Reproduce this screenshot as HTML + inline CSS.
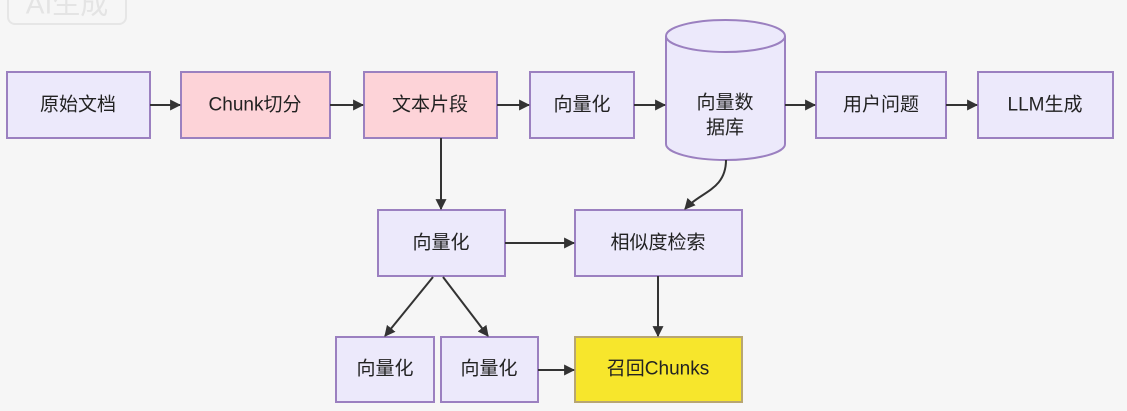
<!DOCTYPE html>
<html><head><meta charset="utf-8"><style>
html,body{margin:0;padding:0;background:#f6f6f6;}
svg{display:block}
text{font-family:"Liberation Sans","Noto Sans CJK SC",sans-serif;font-size:19px;fill:#222;text-anchor:middle;dominant-baseline:central}
.b{fill:#ece9fb;stroke:#9b80c0;stroke-width:2}
.p{fill:#fdd3d8;stroke:#9b80c0;stroke-width:2}
.y{fill:#f7e62c;stroke:#b8a672;stroke-width:2}
.l{stroke:#333;stroke-width:2;fill:none;marker-end:url(#a)}
</style></head><body>
<svg width="1127" height="411" viewBox="0 0 1127 411">
<defs><marker id="a" viewBox="0 0 10 10" refX="9" refY="5" markerWidth="11" markerHeight="11" orient="auto" markerUnits="userSpaceOnUse"><path d="M0,0L10,5L0,10z" fill="#333"/></marker></defs>
<rect x="8" y="-12" width="118" height="36" rx="7" fill="none" stroke="#e6e6e6" stroke-width="2"/>
<text x="67" y="4" style="fill:#e4e4e4;font-size:28px">AI生成</text>
<rect class="b" x="7" y="72" width="143" height="66"/><text x="78" y="105">原始文档</text>
<rect class="p" x="181" y="72" width="149" height="66"/><text x="255" y="105">Chunk切分</text>
<rect class="p" x="364" y="72" width="133" height="66"/><text x="430" y="105">文本片段</text>
<rect class="b" x="530" y="72" width="104" height="66"/><text x="582" y="105">向量化</text>
<path class="b" d="M666,36 A59.5,16 0 0 1 785,36 L785,144 A59.5,16 0 0 1 666,144 Z"/>
<path d="M666,36 A59.5,16 0 0 0 785,36" fill="none" stroke="#9b80c0" stroke-width="2"/>
<text x="725" y="103">向量数</text><text x="725" y="128">据库</text>
<rect class="b" x="816" y="72" width="130" height="66"/><text x="881" y="105">用户问题</text>
<rect class="b" x="978" y="72" width="135" height="66"/><text x="1045" y="105">LLM生成</text>
<rect class="b" x="378" y="210" width="127" height="66"/><text x="441" y="243">向量化</text>
<rect class="b" x="575" y="210" width="167" height="66"/><text x="658" y="243">相似度检索</text>
<rect class="b" x="336" y="337" width="98" height="65"/><text x="385" y="369">向量化</text>
<rect class="b" x="441" y="337" width="97" height="65"/><text x="489" y="369">向量化</text>
<rect class="y" x="575" y="337" width="167" height="65"/><text x="658" y="369">召回Chunks</text>
<line class="l" x1="150" y1="105" x2="180" y2="105"/>
<line class="l" x1="330" y1="105" x2="363" y2="105"/>
<line class="l" x1="497" y1="105" x2="529" y2="105"/>
<line class="l" x1="634" y1="105" x2="665" y2="105"/>
<line class="l" x1="785" y1="105" x2="815" y2="105"/>
<line class="l" x1="946" y1="105" x2="977" y2="105"/>
<line class="l" x1="441" y1="138" x2="441" y2="209"/>
<path class="l" d="M726,160 C726,190 700,192 685,209"/>
<line class="l" x1="505" y1="243" x2="574" y2="243"/>
<line class="l" x1="433" y1="277" x2="385" y2="336"/>
<line class="l" x1="443" y1="277" x2="488" y2="336"/>
<line class="l" x1="658" y1="276" x2="658" y2="336"/>
<line class="l" x1="538" y1="370" x2="574" y2="370"/>
</svg>
</body></html>
